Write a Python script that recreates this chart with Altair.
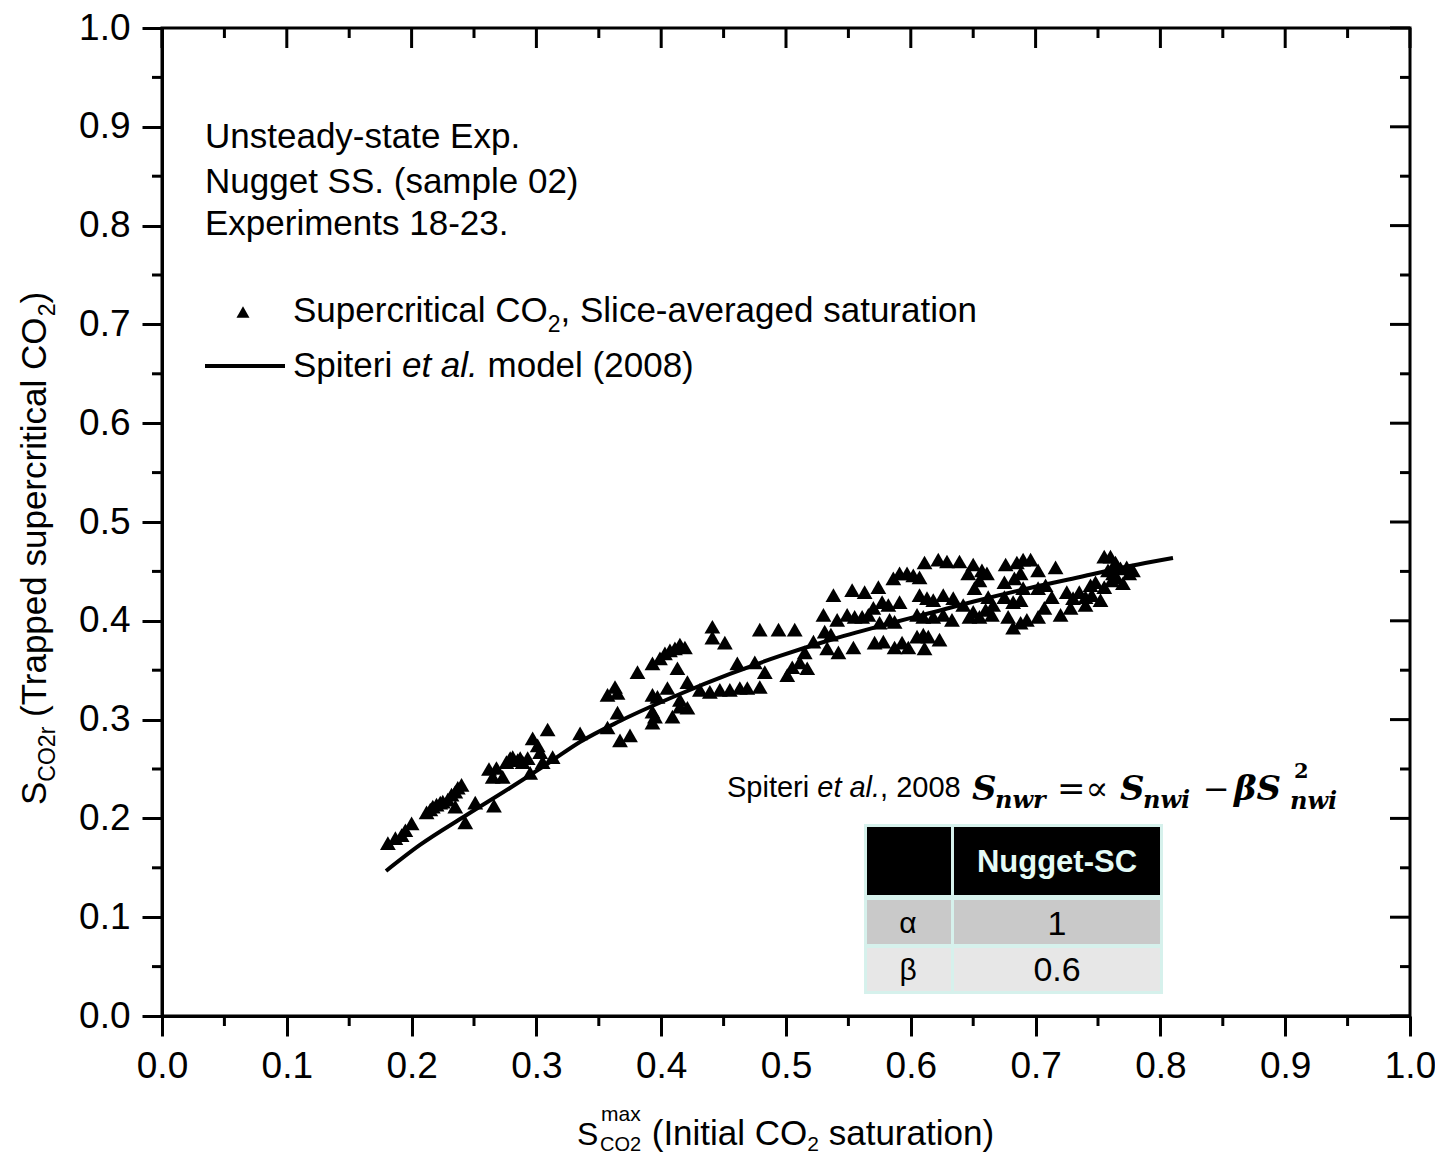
import altair as alt
import pandas as pd

SANS = "Liberation Sans"
SERIF = "DejaVu Serif"

# ---------------- data ----------------
sat_x = [0.181, 0.187, 0.192, 0.195, 0.200, 0.212, 0.215, 0.217, 0.220, 0.223, 0.225, 0.229, 0.232, 0.235,
         0.237, 0.240, 0.235, 0.243, 0.251, 0.266, 0.262, 0.265, 0.268, 0.273, 0.276, 0.279, 0.281, 0.285,
         0.287, 0.289, 0.293, 0.295, 0.297, 0.301, 0.303, 0.309, 0.305, 0.313, 0.335, 0.357, 0.365, 0.357,
         0.365, 0.367, 0.375, 0.363, 0.381, 0.393, 0.399, 0.403, 0.407, 0.411, 0.415, 0.419, 0.413, 0.397,
         0.405, 0.393, 0.393, 0.395, 0.409, 0.415, 0.421, 0.421, 0.415, 0.393, 0.441, 0.441, 0.451, 0.479,
         0.494, 0.507, 0.461, 0.475, 0.483, 0.479, 0.501, 0.505, 0.511, 0.517, 0.522, 0.530, 0.531, 0.431,
         0.439, 0.447, 0.455, 0.463, 0.469, 0.536, 0.538, 0.553, 0.563, 0.574, 0.541, 0.549, 0.555, 0.561,
         0.566, 0.570, 0.577, 0.582, 0.591, 0.575, 0.583, 0.587, 0.586, 0.591, 0.597, 0.602, 0.607, 0.611,
         0.622, 0.629, 0.639, 0.646, 0.650, 0.657, 0.661, 0.655, 0.651, 0.607, 0.613, 0.618, 0.626, 0.634,
         0.642, 0.650, 0.660, 0.666, 0.605, 0.610, 0.618, 0.626, 0.633, 0.554, 0.571, 0.578, 0.587, 0.593,
         0.598, 0.605, 0.610, 0.614, 0.623, 0.611, 0.533, 0.542, 0.515, 0.647, 0.655, 0.665, 0.678, 0.682,
         0.688, 0.693, 0.702, 0.707, 0.720, 0.728, 0.740, 0.662, 0.675, 0.682, 0.688, 0.690, 0.702, 0.708,
         0.713, 0.725, 0.735, 0.744, 0.748, 0.755, 0.761, 0.765, 0.770, 0.775, 0.768, 0.764, 0.755, 0.760,
         0.752, 0.730, 0.740, 0.745, 0.758, 0.762, 0.773, 0.778, 0.676, 0.685, 0.690, 0.696, 0.702, 0.716,
         0.688, 0.683, 0.675]
sat_y = [0.175, 0.180, 0.183, 0.188, 0.195, 0.206, 0.209, 0.212, 0.214, 0.216, 0.217, 0.219, 0.224, 0.227,
         0.231, 0.234, 0.212, 0.196, 0.216, 0.213, 0.250, 0.242, 0.251, 0.242, 0.257, 0.261, 0.262, 0.259,
         0.261, 0.257, 0.261, 0.246, 0.281, 0.274, 0.267, 0.290, 0.257, 0.262, 0.286, 0.325, 0.327, 0.292,
         0.307, 0.279, 0.284, 0.333, 0.348, 0.357, 0.362, 0.367, 0.370, 0.372, 0.376, 0.373, 0.352, 0.323,
         0.332, 0.308, 0.297, 0.303, 0.303, 0.313, 0.312, 0.338, 0.320, 0.325, 0.394, 0.383, 0.378, 0.391,
         0.391, 0.391, 0.357, 0.358, 0.348, 0.333, 0.345, 0.353, 0.358, 0.352, 0.379, 0.406, 0.389, 0.330,
         0.328, 0.330, 0.330, 0.332, 0.332, 0.386, 0.426, 0.431, 0.429, 0.434, 0.401, 0.406, 0.404, 0.404,
         0.406, 0.413, 0.419, 0.416, 0.419, 0.398, 0.401, 0.399, 0.443, 0.448, 0.448, 0.446, 0.444, 0.459,
         0.462, 0.460, 0.460, 0.448, 0.457, 0.451, 0.448, 0.441, 0.433, 0.426, 0.423, 0.421, 0.426, 0.423,
         0.416, 0.409, 0.411, 0.416, 0.406, 0.404, 0.404, 0.406, 0.401, 0.373, 0.378, 0.379, 0.373, 0.378,
         0.373, 0.384, 0.386, 0.384, 0.381, 0.372, 0.372, 0.368, 0.368, 0.404, 0.404, 0.406, 0.404, 0.393,
         0.398, 0.401, 0.404, 0.413, 0.406, 0.413, 0.416, 0.424, 0.424, 0.419, 0.421, 0.433, 0.433, 0.436,
         0.424, 0.429, 0.429, 0.436, 0.439, 0.434, 0.441, 0.444, 0.438, 0.448, 0.453, 0.459, 0.465, 0.465,
         0.421, 0.423, 0.424, 0.426, 0.451, 0.448, 0.454, 0.451, 0.457, 0.459, 0.462, 0.462, 0.451, 0.454,
         0.448, 0.443, 0.439]

model_x = [0.1795, 0.2067, 0.2428, 0.2788, 0.3109, 0.3349, 0.3670, 0.4151, 0.4551, 0.4952, 0.5353,
           0.5753, 0.6154, 0.6554, 0.6955, 0.7356, 0.7756, 0.8101]
model_y = [0.1468, 0.1731, 0.2024, 0.2308, 0.2571, 0.2773, 0.2986, 0.3259, 0.3462, 0.3644, 0.3806,
           0.3947, 0.4079, 0.4211, 0.4332, 0.4443, 0.4555, 0.4636]

major_ticks = [0.0, 0.1, 0.2, 0.3, 0.4, 0.5, 0.6, 0.7, 0.8, 0.9, 1.0]
minor_ticks = [0.05, 0.15, 0.25, 0.35, 0.45, 0.55, 0.65, 0.75, 0.85, 0.95]

table_header = "Nugget-SC"
table_params = ["α", "β"]
table_values = ["1", "0.6"]

block_lines = ["Unsteady-state Exp.", "Nugget SS. (sample 02)", "Experiments 18-23."]

# ---------------- layout ----------------
W, H = 1248, 988
OX, OY = 162, 28          # page position of plot origin

AW = {' ': 278, '(': 333, ')': 333, ',': 278, '-': 333, '.': 278, ':': 278,
      'A': 667, 'B': 667, 'C': 722, 'D': 722, 'E': 667, 'F': 611, 'G': 778, 'H': 722, 'I': 278,
      'J': 500, 'K': 667, 'L': 556, 'M': 833, 'N': 722, 'O': 778, 'P': 667, 'Q': 778, 'R': 722,
      'S': 667, 'T': 611, 'U': 722, 'V': 667, 'W': 944, 'X': 667, 'Y': 667, 'Z': 611,
      'a': 556, 'b': 556, 'c': 500, 'd': 556, 'e': 556, 'f': 278, 'g': 556, 'h': 556, 'i': 222,
      'j': 222, 'k': 500, 'l': 222, 'm': 833, 'n': 556, 'o': 556, 'p': 556, 'q': 556, 'r': 333,
      's': 500, 't': 278, 'u': 556, 'v': 500, 'w': 722, 'x': 500, 'y': 500, 'z': 500}


def tw(s, size):
    return sum(AW.get(c, 556) for c in s) * size / 1000.0


one = pd.DataFrame({"k": [0]})


def txt(s, px, py, size, font=SANS, style="normal", weight="normal", angle=0,
        align="left", baseline="alphabetic", color="black"):
    props = dict(text=s, fontSize=size, font=font, fontStyle=style, fontWeight=weight,
                 align=align, baseline=baseline, color=color)
    if angle:
        props["angle"] = angle
    return alt.Chart(one).mark_text(**props).encode(x=alt.value(px - OX), y=alt.value(py - OY))


def runs(parts, x0, y0, angle=0):
    out = []
    pos = 0.0
    for text, size, shift, style in parts:
        lead = len(text) - len(text.lstrip(" "))
        pos += tw(" " * lead, size)
        body = text.lstrip(" ")
        if angle == 0:
            px, py = x0 + pos, y0 + shift
        else:
            px, py = x0 + shift, y0 - pos
        out.append(txt(body, px, py, size, style=style, angle=angle))
        pos += tw(body, size)
    return out, pos


def rect(x1, y1, x2, y2, fill):
    return alt.Chart(one).mark_rect(color=fill, opacity=1).encode(
        x=alt.value(x1 - OX), x2=alt.value(x2 - OX), y=alt.value(y1 - OY), y2=alt.value(y2 - OY))


xs = alt.Scale(domain=[0, 1], nice=False, zero=False)
ys = alt.Scale(domain=[0, 1], nice=False, zero=False)

axis_common = dict(values=major_ticks, format=".1f", tickSize=20, tickWidth=3, tickColor="black",
                   domainColor="black", domainWidth=3, labelFont=SANS, labelFontSize=37,
                   labelColor="black", labelPadding=12, labelFlush=False, labelOverlap=False,
                   labelBound=False, grid=False, title=None)
xaxis = alt.Axis(orient="bottom", **axis_common)
yaxis = alt.Axis(orient="left", **axis_common)

layers = []

curve = alt.Chart(pd.DataFrame({"x": model_x, "y": model_y})).mark_line(
    color="black", strokeWidth=4, interpolate="monotone").encode(
    x=alt.X("x:Q", scale=xs, axis=xaxis), y=alt.Y("y:Q", scale=ys, axis=yaxis))

scatter = alt.Chart(pd.DataFrame({"x": sat_x, "y": sat_y})).mark_point(
    shape="triangle-up", filled=True, color="black", size=250, opacity=1).encode(
    x=alt.X("x:Q", scale=xs, axis=xaxis), y=alt.Y("y:Q", scale=ys, axis=yaxis))

layers += [curve, scatter]


def xrules(vals, y1, y2):
    return alt.Chart(pd.DataFrame({"x": vals})).mark_rule(color="black", strokeWidth=3).encode(
        x=alt.X("x:Q", scale=xs, axis=xaxis), y=alt.value(y1), y2=alt.value(y2))


def yrules(vals, x1, x2):
    return alt.Chart(pd.DataFrame({"y": vals})).mark_rule(color="black", strokeWidth=3).encode(
        y=alt.Y("y:Q", scale=ys, axis=yaxis), x=alt.value(x1), x2=alt.value(x2))


layers += [
    xrules(minor_ticks, H, H + 10),
    xrules(major_ticks, 0, 20),
    xrules(minor_ticks, 0, 10),
    yrules(minor_ticks, 0, -10),
    yrules(major_ticks, W, W - 20),
    yrules(minor_ticks, W, W - 10),
]

# block text
for line, base in zip(block_lines, [148, 193, 235]):
    layers.append(txt(line, 205, base, 35))

# legend
layers.append(alt.Chart(one).mark_point(shape="triangle-up", filled=True, color="black", size=170,
                                        opacity=1).encode(x=alt.value(243 - OX), y=alt.value(312 - OY)))
layers.append(alt.Chart(one).mark_rule(color="black", strokeWidth=4).encode(
    x=alt.value(205 - OX), x2=alt.value(285 - OX), y=alt.value(366 - OY)))
lg1, _ = runs([("Supercritical CO", 35, 0, "normal"), ("2", 23, 10, "normal"),
               (", Slice-averaged saturation", 35, 0, "normal")], 293, 322)
lg2, _ = runs([("Spiteri ", 35, 0, "normal"), ("et al.", 35, 0, "italic"),
               (" model (2008)", 35, 0, "normal")], 293, 377)
layers += lg1 + lg2

# annotation + formula
an, _ = runs([("Spiteri ", 29, 0, "normal"), ("et al.", 29, 0, "italic"), (", 2008", 29, 0, "normal")],
             727, 797)
layers += an
fb = dict(font=SERIF, style="italic", weight="bold")
layers += [
    txt("S", 972, 800, 34, **fb),
    txt("nwr", 995, 808, 24, **fb),
    txt("=∝", 1057, 800, 34, font=SERIF),
    txt("S", 1120, 800, 34, **fb),
    txt("nwi", 1143, 808, 24, **fb),
    txt("−", 1203, 800, 32, font=SERIF),
    txt("βS", 1234, 800, 34, **fb),
    txt("2", 1294, 778, 21, font=SERIF, weight="bold"),
    txt("nwi", 1290, 809, 24, **fb),
]

# table
layers += [
    rect(864, 824, 1163, 994, "#d6f1ec"),
    rect(867, 827, 951, 895, "#000000"),
    rect(954, 827, 1160, 895, "#000000"),
    rect(867, 900, 951, 944, "#c9c9c9"),
    rect(954, 900, 1160, 944, "#c9c9c9"),
    rect(867, 948, 951, 991, "#e7e7e7"),
    rect(954, 948, 1160, 991, "#e7e7e7"),
    txt(table_header, 1057, 872, 31, weight="bold", align="center", color="#e4fbf6"),
    txt(table_params[0], 908, 933, 30, align="center"),
    txt(table_values[0], 1057, 935, 34, align="center"),
    txt(table_params[1], 908, 980, 30, align="center"),
    txt(table_values[1], 1057, 981, 34, align="center"),
]

# x title
layers.append(txt("S", 577, 1145, 32))
layers.append(txt("max", 601, 1121, 21))
layers.append(txt("CO2", 600, 1151, 20))
xt, _ = runs([(" (Initial CO", 35, 0, "normal"), ("2", 21, 6, "normal"),
              (" saturation)", 35, 0, "normal")], 642, 1145)
layers += xt

# y title (rotated)
yt, _ = runs([("S", 35, 0, "normal"), ("CO2r", 23, 9, "normal"),
              (" (Trapped supercritical CO", 35, 0, "normal"), ("2", 23, 9, "normal"),
              (")", 35, 0, "normal")], 46, 805, angle=270)
layers += yt

chart = alt.layer(*layers).properties(
    width=W, height=H,
    autosize=alt.AutoSizeParams(type="none"),
    padding={"left": 154, "top": 20, "right": 25, "bottom": 141},
    background="white",
).configure_view(stroke="black", strokeWidth=3)

chart.save("out.html", embed_options={"renderer": "svg", "actions": False})
